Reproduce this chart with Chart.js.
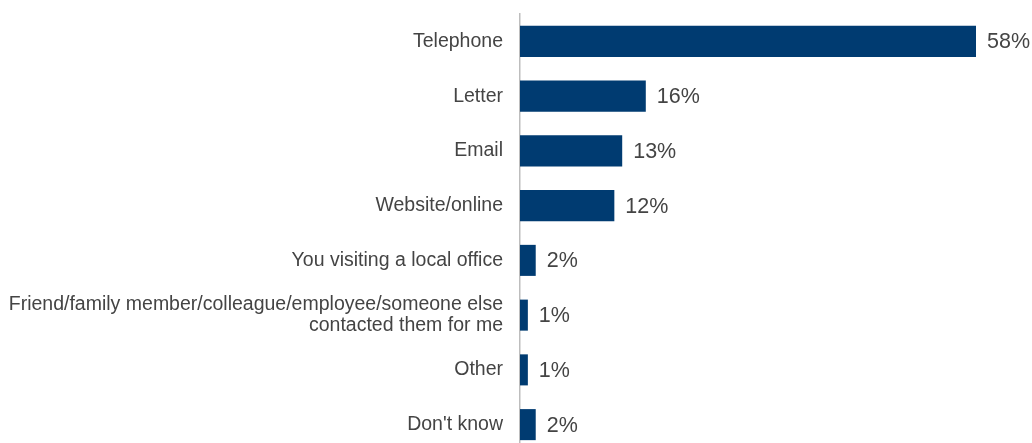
<!DOCTYPE html>
<html>
<head>
<meta charset="utf-8">
<script src="https://cdn.jsdelivr.net/npm/chart.js@4/dist/chart.umd.min.js"></script>
<style>
  html, body { margin: 0; padding: 0; background: #fff; overflow: hidden; }
  #wrap { position: relative; width: 1032px; height: 452px; }
</style>
</head>
<body>
<div id="wrap"><canvas id="chart"></canvas></div>
<script>
// Contact channels and share of respondents (%)
const categories = [
  "Telephone",
  "Letter",
  "Email",
  "Website/online",
  "You visiting a local office",
  ["Friend/family member/colleague/employee/someone else", "contacted them for me"],
  "Other",
  "Don't know"
];
const shares = [58, 16, 13, 12, 2, 1, 1, 2];

const FONT = "'Liberation Sans', Arial, Helvetica, sans-serif";
const BAR_COLOR = "#003B71";
const TEXT_COLOR = "#444444";

// Percentage labels to the right of each bar
const valueLabels = {
  id: "valueLabels",
  afterDatasetsDraw(chart) {
    const ctx = chart.ctx;
    const meta = chart.getDatasetMeta(0);
    ctx.save();
    ctx.font = "21.5px " + FONT;
    ctx.fillStyle = TEXT_COLOR;
    ctx.textAlign = "left";
    ctx.textBaseline = "middle";
    meta.data.forEach((bar, i) => {
      ctx.fillText(shares[i] + "%", bar.x + 11, bar.y + 1);
    });
    ctx.restore();
  }
};

new Chart(document.getElementById("chart"), {
  type: "bar",
  data: {
    labels: categories,
    datasets: [{
      data: shares,
      backgroundColor: BAR_COLOR,
      borderWidth: 0,
      barPercentage: 0.567,
      categoryPercentage: 1.0
    }]
  },
  options: {
    indexAxis: "y",
    responsive: true,
    maintainAspectRatio: false,
    animation: false,
    layout: { padding: { top: 14, right: 56, bottom: 0, left: 0 } },
    plugins: {
      legend: { display: false },
      tooltip: { enabled: false }
    },
    scales: {
      x: {
        display: false,
        min: 0,
        max: 58
      },
      y: {
        afterFit(scale) {
          scale.width = 520;
          scale.paddingTop = 0;
          scale.paddingBottom = 0;
        },
        grid: { display: false, drawTicks: false },
        border: { display: true, color: "#BDBDBD", width: 1.5 },
        ticks: {
          padding: 17,
          color: TEXT_COLOR,
          font: { family: FONT, size: 19.5, lineHeight: 1.06 }
        }
      }
    }
  },
  plugins: [valueLabels]
});
</script>
</body>
</html>
